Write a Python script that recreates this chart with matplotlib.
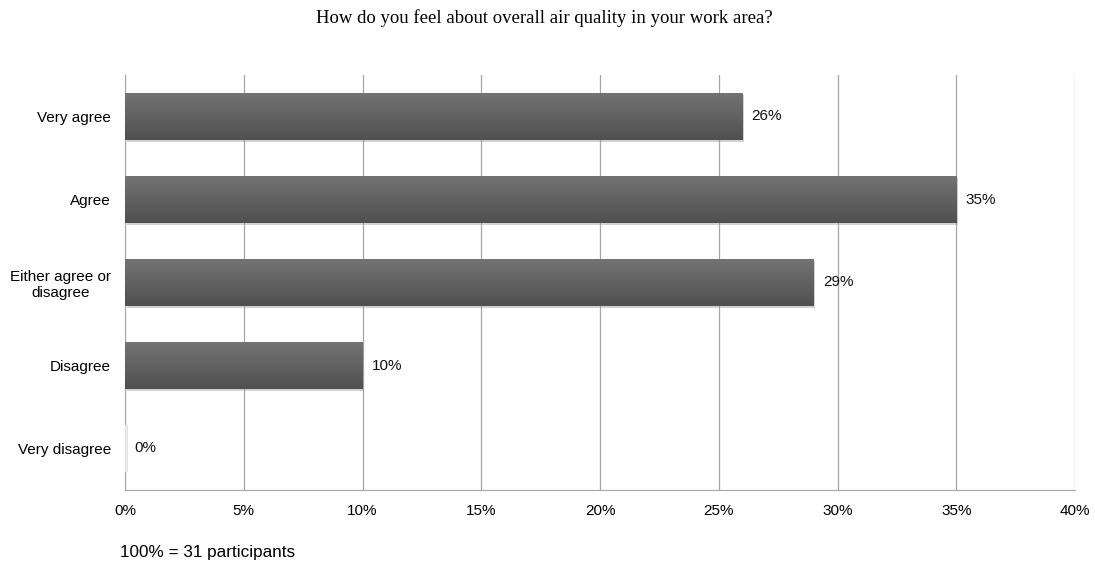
import matplotlib
matplotlib.use("Agg")
import matplotlib.pyplot as plt
import numpy as np
from matplotlib.patches import Rectangle
import matplotlib.transforms as mtransforms
from matplotlib.colors import LinearSegmentedColormap

categories = ["Very agree", "Agree", "Either agree or\ndisagree", "Disagree", "Very disagree"]
values = [26, 35, 29, 10, 0]
xticks = [0, 5, 10, 15, 20, 25, 30, 35, 40]
title = "How do you feel about overall air quality in your work area?"
note = "100% = 31 participants"

fig = plt.figure(figsize=(10.95, 5.64), dpi=100)
ax = fig.add_axes([125/1095, 1-490/564, (1075-125)/1095, (490-75)/564])

ypos = np.arange(len(categories))
bar_h = 0.57
grad = np.linspace(0, 1, 64).reshape(-1, 1)
cmap = LinearSegmentedColormap.from_list("g", ["#747474", "#505050"])

for y, v in zip(ypos, values):
    if v > 0:
        sh = Rectangle((0, y - bar_h/2), v, bar_h, facecolor="#9a9a9a", edgecolor="none",
                       alpha=0.45, zorder=2,
                       transform=ax.transData + mtransforms.ScaledTranslation(1.5/100, -2/100, fig.dpi_scale_trans))
        ax.add_patch(sh)
        r = Rectangle((0, y - bar_h/2), v, bar_h, facecolor="#606060", edgecolor="none", zorder=3)
        ax.add_patch(r)
        im = ax.imshow(grad, cmap=cmap, aspect="auto",
                       extent=[0, v, y + bar_h/2, y - bar_h/2], zorder=4)
        im.set_clip_path(r)
    else:
        ax.add_patch(Rectangle((0, y - bar_h/2), 0.12, bar_h, facecolor="#e6e6e6",
                               edgecolor="none", zorder=3))
    ax.text(v + 0.38, y, f"{v}%", va="center", ha="left", fontsize=11,
            family="Liberation Sans", color="#111111")

ax.set_xlim(0, 40)
ax.set_ylim(len(categories) - 0.5, -0.5)
ax.set_xticks(xticks)
ax.set_xticklabels([f"{t}%" for t in xticks], family="Liberation Sans", fontsize=11)
ax.set_yticks(ypos)
ax.set_yticklabels(categories, family="Liberation Sans", fontsize=11)
for lbl in ax.get_yticklabels():
    lbl.set_multialignment("center")
ax.tick_params(length=0)
ax.tick_params(axis="y", pad=10)
ax.tick_params(axis="x", pad=10)
ax.grid(axis="x", color="#a6a6a6", linewidth=0.9, zorder=0)
ax.set_axisbelow(True)
for s in ["top", "right"]:
    ax.spines[s].set_visible(False)
ax.spines["left"].set_color("#a6a6a6")
ax.spines["bottom"].set_color("#a6a6a6")

fig.text(544/1095, 1-18/564, title, ha="center", va="center", fontsize=13.5,
         family="Liberation Serif")
fig.text(120/1095, 1-552/564, note, ha="left", va="center", fontsize=12.3,
         family="Liberation Sans")

fig.savefig("out.png", dpi=100)
